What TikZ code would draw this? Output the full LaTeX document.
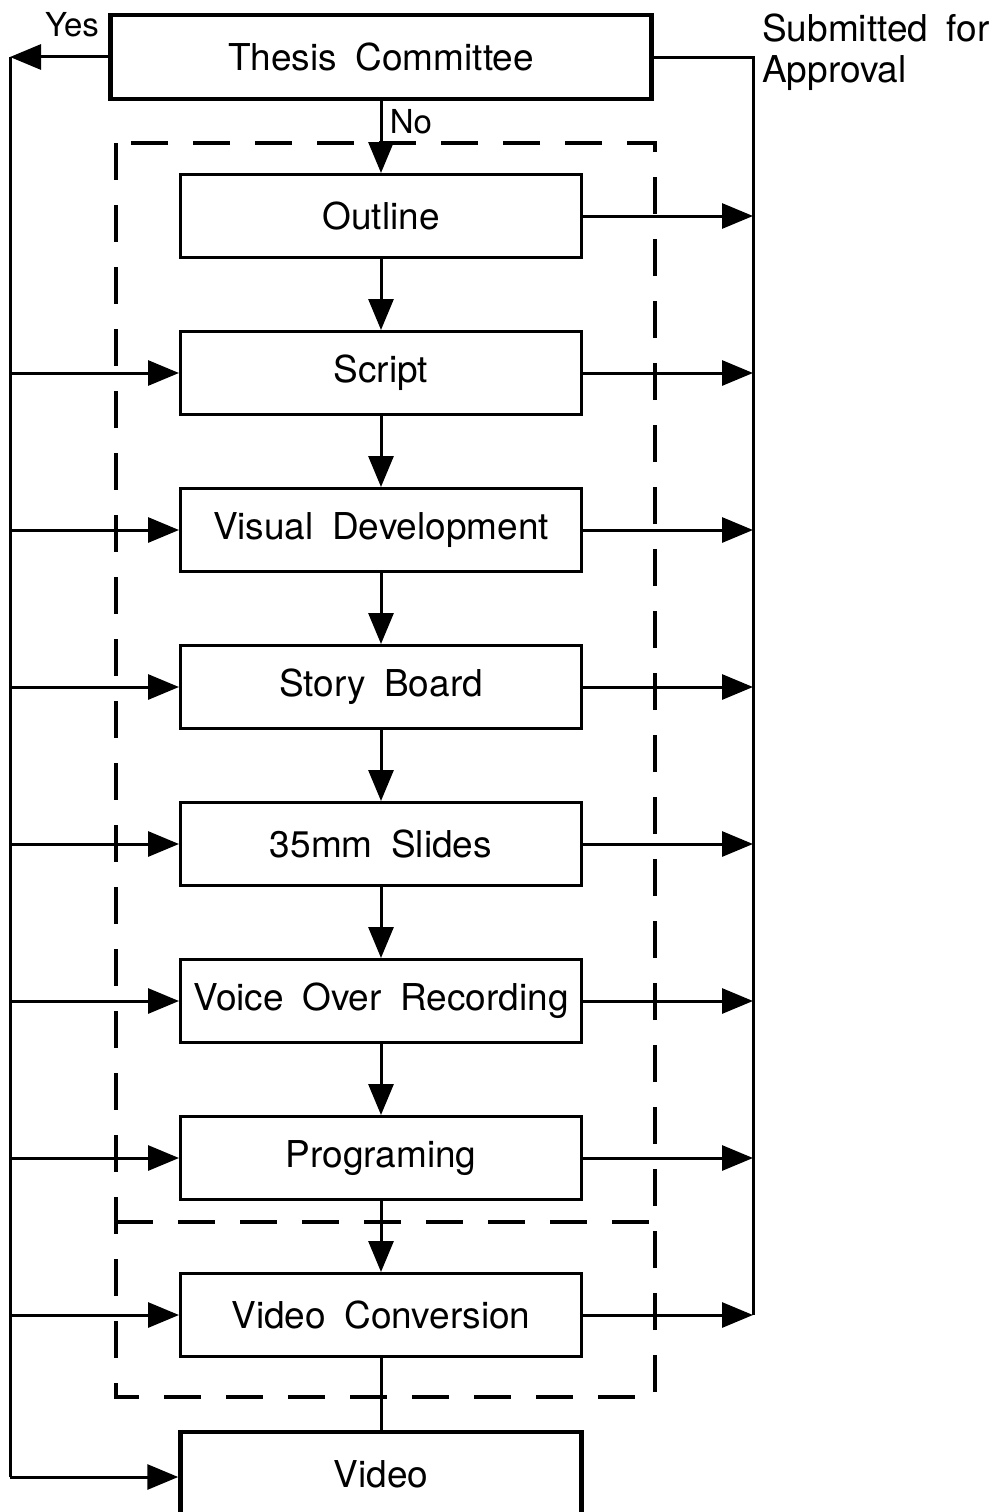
\documentclass[tikz,border=0pt]{standalone}
\usepackage{fontspec}
\setmainfont[WordSpace=1.8]{TeX Gyre Heros}
\usetikzlibrary{arrows.meta}
\begin{document}
\begin{tikzpicture}[x=1pt,y=-1pt,
  stepbox/.style={draw,line width=3pt,minimum width=401pt,minimum height=83pt,inner sep=0pt,font=\fontsize{37}{40}\selectfont},
  bigbox/.style={stepbox,line width=4.5pt},
  conn/.style={line width=3pt},
  arr/.style={conn,-{Triangle[length=31pt,width=25pt]}},
  lbl/.style={inner sep=0pt,font=\fontsize{33}{36}\selectfont},
  side/.style={inner sep=0pt,font=\fontsize{37}{40}\selectfont,anchor=base west},
  dashbox/.style={line width=3.4pt,dash pattern=on 37pt off 25pt}]
\useasboundingbox (0,0) rectangle (1006,1512);
% dashed frames
\draw[dashbox] (116,143) rectangle (655,1397);
\draw[dashbox] (116,1222) -- (655,1222);
% nodes
\node[bigbox,minimum width=541pt,minimum height=84pt] (tc) at (381,57) {Thesis Committee};
\node[stepbox] (outline) at (381,216) {Outline};
\node[stepbox] (script) at (381,373) {Script};
\node[stepbox] (visual) at (381,530) {Visual Development};
\node[stepbox] (story) at (381,687) {Story Board};
\node[stepbox] (slides) at (381,844) {35mm Slides};
\node[stepbox] (voice) at (381,1001) {Voice Over Recording};
\node[stepbox] (prog) at (381,1158) {Programing};
\node[stepbox] (vconv) at (381,1315) {Video Conversion};
\node[bigbox,minimum height=94pt,text depth=0pt] (video) at (381,1479) {};
\node[inner sep=0pt,font=\fontsize{37}{40}\selectfont] (videotxt) at (381,1474) {Video};
% labels
\node[lbl,anchor=base] (yes) at (72,37) {Yes};
\node[lbl,anchor=base] (no) at (411,133) {No};
\node[side] (sub1) at (762,42) {Submitted for};
\node[side] (sub2) at (762,82) {Approval};
% rails
\coordinate (L0) at (10,57);
\coordinate (Lend) at (10,1477);
\coordinate (R0) at (753,58);
\coordinate (Rend) at (753,1315);
\draw[arr] (tc.west) -- (L0);
\draw[conn] (L0) -- (Lend);
\draw[conn] (tc.east |- R0) -- (R0) -- (Rend);
% vertical flow
\draw[arr] (tc.south) -- (outline.north);
\draw[arr] (outline) -- (script);
\draw[arr] (script) -- (visual);
\draw[arr] (visual) -- (story);
\draw[arr] (story) -- (slides);
\draw[arr] (slides) -- (voice);
\draw[arr] (voice) -- (prog);
\draw[arr] (prog) -- (vconv);
\draw[conn] (vconv.south) -- (video.north);
% left feedback arrows
\foreach \n in {script,visual,story,slides,voice,prog,vconv}
  \draw[arr] (\n.west -| L0) -- (\n.west);
\draw[arr] (Lend) -- (Lend -| video.west);
% right submission arrows
\foreach \n in {outline,script,visual,story,slides,voice,prog,vconv}
  \draw[arr] (\n.east) -- (\n.east -| R0);
\end{tikzpicture}
\end{document}
